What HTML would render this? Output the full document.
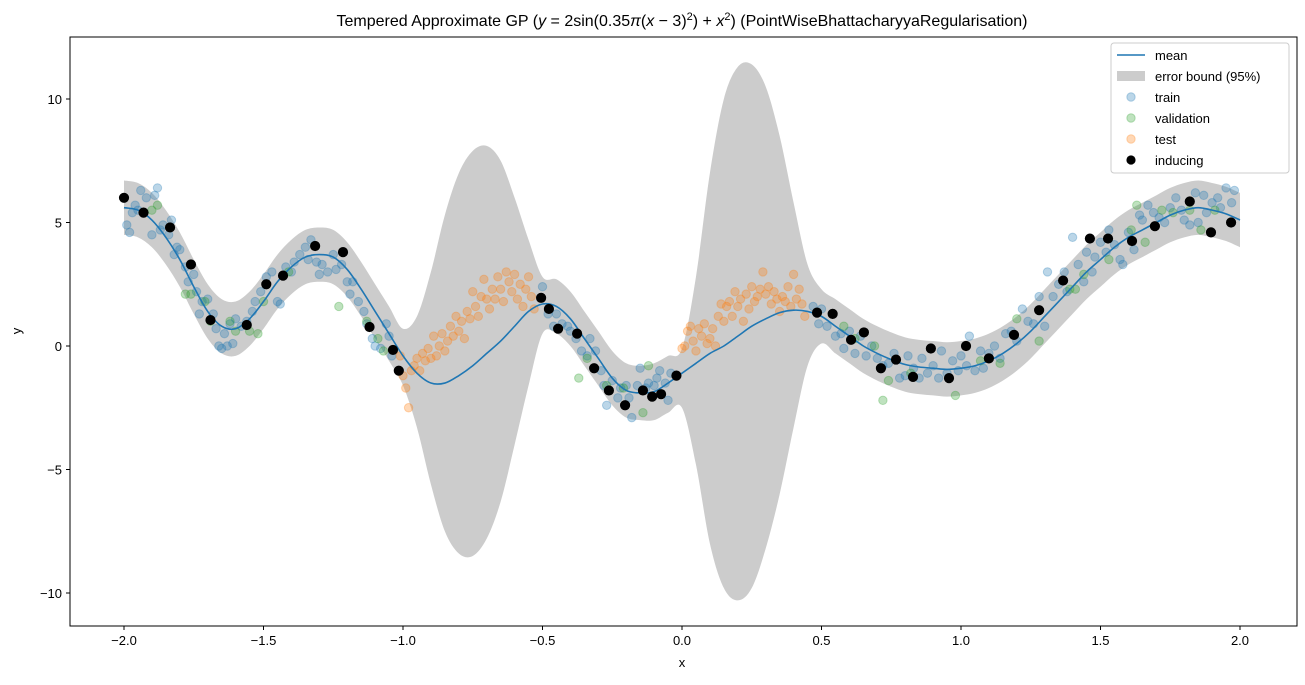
<!DOCTYPE html>
<html><head><meta charset="utf-8"><style>
body{margin:0;background:#fff;}
svg{font-family:"Liberation Sans","DejaVu Sans",sans-serif;}
</style></head><body>
<svg id="chart" width="1305" height="680"></svg>
<script>
const gridX=[-2,-1.95,-1.9,-1.85,-1.8,-1.75,-1.7,-1.65,-1.6,-1.55,-1.5,-1.45,-1.4,-1.35,-1.3,-1.25,-1.2,-1.15,-1.1,-1.05,-1,-0.95,-0.9,-0.85,-0.8,-0.75,-0.7,-0.65,-0.6,-0.55,-0.5,-0.45,-0.4,-0.35,-0.3,-0.25,-0.2,-0.15,-0.1,-0.05,0,0.05,0.1,0.15,0.2,0.25,0.3,0.35,0.4,0.45,0.5,0.55,0.6,0.65,0.7,0.75,0.8,0.85,0.9,0.95,1,1.05,1.1,1.15,1.2,1.25,1.3,1.35,1.4,1.45,1.5,1.55,1.6,1.65,1.7,1.75,1.8,1.85,1.9,1.95,2];
const meanY=[5.6,5.5,5.1,4.4,3.5,2.4,1.4,0.8,0.7,1.1,1.8,2.6,3.2,3.6,3.7,3.6,3.1,2.3,1.4,0.5,-0.4,-1.1,-1.5,-1.5,-1.2,-0.8,-0.3,0.2,0.8,1.4,1.7,1.6,1.1,0.3,-0.5,-1.3,-1.8,-1.9,-1.85,-1.5,-1.1,-0.7,-0.3,0.0,0.4,0.8,1.1,1.35,1.45,1.4,1.2,0.8,0.4,0.0,-0.3,-0.55,-0.75,-0.85,-0.9,-0.95,-0.9,-0.8,-0.6,-0.3,0.1,0.6,1.2,1.8,2.4,3.0,3.5,4.0,4.4,4.7,5.0,5.3,5.5,5.6,5.5,5.35,5.1];
const upperY=[6.7,6.6,6.2,5.5,4.6,3.5,2.5,1.9,1.8,2.2,2.9,3.7,4.3,4.7,4.8,4.7,4.2,3.4,2.5,1.6,0.7,1.2,3.0,5.3,7.0,7.9,8.1,7.5,6.0,4.3,2.8,2.7,2.2,1.4,0.6,-0.2,-0.7,-0.8,-0.7,-0.4,-0.1,2.8,7.0,10.0,11.3,11.4,10.5,8.5,5.8,3.3,2.3,1.9,1.5,1.1,0.8,0.55,0.35,0.25,0.2,0.15,0.2,0.3,0.5,0.8,1.2,1.7,2.3,2.9,3.5,4.1,4.6,5.1,5.5,5.8,6.1,6.4,6.6,6.7,6.6,6.45,6.2];
const lowerY=[4.5,4.4,4.0,3.3,2.4,1.3,0.3,-0.3,-0.4,0.0,0.7,1.5,2.1,2.5,2.6,2.5,2.0,1.2,0.3,-0.6,-1.6,-3.3,-5.6,-7.5,-8.4,-8.5,-7.8,-6.3,-4.0,-1.6,0.5,0.5,0.0,-0.8,-1.6,-2.4,-2.9,-3.0,-3.0,-2.7,-2.5,-4.8,-8.0,-9.8,-10.3,-9.8,-8.2,-6.0,-3.3,-0.8,0.1,-0.3,-0.7,-1.1,-1.4,-1.65,-1.85,-1.95,-2.0,-2.05,-2.0,-1.9,-1.7,-1.4,-1.0,-0.5,0.1,0.7,1.3,1.9,2.4,2.9,3.3,3.6,3.9,4.2,4.4,4.5,4.4,4.25,4.0];
const trainPts=[-1.99,4.9,-1.98,4.6,-1.97,5.4,-1.96,5.7,-1.95,5.5,-1.94,6.3,-1.92,6.0,-1.9,4.5,-1.89,6.1,-1.88,6.4,-1.87,4.7,-1.86,4.9,-1.84,4.5,-1.83,5.1,-1.82,3.7,-1.81,4.0,-1.8,3.9,-1.78,3.2,-1.77,2.6,-1.75,2.9,-1.74,2.2,-1.73,1.3,-1.72,1.8,-1.7,1.9,-1.68,1.3,-1.67,0.7,-1.66,0.0,-1.65,-0.1,-1.64,0.5,-1.63,0.0,-1.62,0.9,-1.61,0.1,-1.6,1.1,-1.58,0.8,-1.56,1.0,-1.54,1.4,-1.53,1.8,-1.51,2.2,-1.49,2.8,-1.47,3.0,-1.45,1.8,-1.44,1.7,-1.42,3.2,-1.4,3.0,-1.39,3.4,-1.37,3.7,-1.35,4.0,-1.34,3.5,-1.33,4.3,-1.31,3.4,-1.3,2.9,-1.29,3.3,-1.27,3.0,-1.25,3.7,-1.24,3.1,-1.22,3.3,-1.2,2.6,-1.19,2.1,-1.18,2.6,-1.16,1.8,-1.14,1.4,-1.13,0.9,-1.11,0.3,-1.1,0.0,-1.08,-0.1,-1.06,0.9,-1.05,0.4,-1.04,-0.4,
-0.5,2.4,-0.48,1.3,-0.46,0.8,-0.45,1.3,-0.43,0.9,-0.41,0.8,-0.4,0.6,-0.38,0.3,-0.36,-0.2,-0.34,-0.4,-0.33,0.3,-0.31,-0.2,-0.29,-1.0,-0.28,-1.6,-0.27,-2.4,-0.25,-1.4,-0.23,-2.1,-0.22,-1.7,-0.2,-1.6,-0.19,-2.1,-0.18,-2.9,-0.16,-1.6,-0.15,-0.9,-0.13,-1.7,-0.12,-1.5,-0.1,-1.6,-0.09,-1.3,-0.08,-1.0,-0.06,-1.5,-0.05,-2.2,-0.04,-1.1,
0.47,1.6,0.49,0.9,0.5,1.5,0.52,0.8,0.55,0.4,0.57,0.5,0.58,-0.1,0.6,0.6,0.62,-0.3,0.64,0.4,0.66,-0.4,0.68,0.0,0.7,-0.5,0.72,-0.8,0.74,-0.7,0.76,-0.3,0.78,-1.3,0.8,-1.2,0.81,-0.4,0.83,-0.9,0.85,-1.3,0.86,-0.5,0.88,-1.1,0.9,-0.8,0.92,-1.3,0.93,-0.2,0.95,-1.1,0.97,-0.6,0.99,-1.0,1.0,-0.4,1.02,-0.8,1.03,0.4,1.05,-1.0,1.07,-0.2,1.08,-0.9,1.1,-0.3,1.12,0.0,1.14,-0.5,1.16,0.5,1.18,0.6,1.2,0.2,1.22,1.5,1.24,1.0,1.26,0.9,1.28,2.0,1.3,0.8,1.31,3.0,1.33,2.0,1.35,2.5,1.37,3.0,1.38,2.2,1.4,4.4,1.42,3.3,1.44,2.6,1.45,3.8,1.47,3.0,1.48,3.6,1.5,4.2,1.52,3.8,1.53,4.7,1.55,4.1,1.57,3.5,1.58,3.3,1.6,4.6,1.62,3.9,1.64,5.3,1.65,5.1,1.67,5.7,1.69,5.4,1.71,5.2,1.73,5.0,1.75,5.6,1.77,6.0,1.79,5.5,1.8,5.1,1.82,4.9,1.84,6.2,1.85,5.0,1.87,6.1,1.88,5.4,1.9,5.8,1.92,6.0,1.93,5.6,1.95,6.4,1.97,5.8,1.98,6.3];
const valPts=[-1.9,5.5,-1.88,5.7,-1.78,2.1,-1.76,2.1,-1.71,1.8,-1.69,1.0,-1.62,1.0,-1.6,0.6,-1.55,0.6,-1.52,0.5,-1.5,1.8,-1.41,3.0,-1.23,1.6,-1.13,1.0,-1.09,0.3,-1.07,-0.2,-0.37,-1.3,-0.27,-1.6,-0.21,-1.7,-0.14,-2.7,-0.12,-0.8,-0.34,-0.5,0.58,0.8,0.62,0.3,0.69,0.0,0.72,-2.2,0.74,-1.4,0.82,-1.1,0.98,-2.0,1.07,-0.6,1.14,-0.7,1.2,1.1,1.28,0.2,1.39,2.3,1.41,2.3,1.44,2.9,1.53,3.5,1.61,4.7,1.63,5.7,1.66,4.2,1.72,5.5,1.76,5.4,1.82,5.5,1.86,4.7,1.91,5.5];
const testPts=[-1.01,-0.4,-1.0,-1.2,-0.99,-1.7,-0.98,-2.5,-0.97,-1.0,-0.96,-0.8,-0.95,-0.5,-0.94,-1.0,-0.93,-0.3,-0.92,-0.6,-0.91,-0.1,-0.9,-0.5,-0.89,0.4,-0.88,-0.4,-0.87,0.0,-0.86,0.5,-0.85,-0.2,-0.84,0.2,-0.83,0.8,-0.82,0.4,-0.81,1.2,-0.8,0.6,-0.79,1.0,-0.78,0.3,-0.77,1.4,-0.76,1.1,-0.75,2.2,-0.74,1.6,-0.73,1.2,-0.72,2.0,-0.71,2.7,-0.7,1.9,-0.69,1.5,-0.68,2.3,-0.67,1.9,-0.66,2.8,-0.65,2.3,-0.64,1.8,-0.63,3.0,-0.62,2.6,-0.61,2.2,-0.6,2.9,-0.59,1.9,-0.58,2.5,-0.57,1.6,-0.56,2.3,-0.55,2.8,-0.54,2.0,-0.53,1.5,
0.0,-0.1,0.01,0.0,0.02,0.6,0.03,0.8,0.04,0.2,0.05,-0.2,0.06,0.7,0.07,0.4,0.08,0.9,0.09,0.1,0.1,0.3,0.11,0.7,0.12,0.0,0.13,1.2,0.14,1.7,0.15,1.0,0.16,1.6,0.17,1.8,0.18,1.2,0.19,2.2,0.2,1.6,0.21,1.9,0.22,1.0,0.23,2.1,0.24,1.5,0.25,2.4,0.26,1.8,0.27,2.0,0.28,2.3,0.29,3.0,0.3,2.1,0.31,2.4,0.32,1.7,0.33,2.2,0.34,1.9,0.35,1.4,0.36,2.0,0.37,1.8,0.38,2.4,0.39,1.6,0.4,2.9,0.41,1.9,0.42,2.3,0.43,1.7,0.44,1.2];
const inducingPts=[-2.0,6.0,-1.93,5.4,-1.835,4.8,-1.76,3.3,-1.69,1.05,-1.56,0.85,-1.49,2.5,-1.43,2.85,-1.315,4.05,-1.215,3.8,-1.12,0.77,-1.036,-0.16,-1.015,-1.0,-0.505,1.95,-0.477,1.5,-0.444,0.7,-0.376,0.5,-0.315,-0.9,-0.262,-1.8,-0.204,-2.4,-0.14,-1.8,-0.107,-2.05,-0.075,-1.95,-0.02,-1.2,0.484,1.35,0.54,1.3,0.606,0.25,0.652,0.55,0.713,-0.9,0.767,-0.55,0.828,-1.25,0.892,-0.1,0.957,-1.3,1.018,0,1.1,-0.5,1.19,0.45,1.28,1.45,1.366,2.65,1.462,4.35,1.527,4.35,1.613,4.25,1.695,4.85,1.82,5.85,1.896,4.6,1.968,5.0];
const xTicks=[-2,-1.5,-1,-0.5,0,0.5,1,1.5,2];
const xTickLabels=["\u22122.0","\u22121.5","\u22121.0","\u22120.5","0.0","0.5","1.0","1.5","2.0"];
const yTicks=[-10,-5,0,5,10];
const yTickLabels=["\u221210","\u22125","0","5","10"];

const L=70,T=37,R=1297,B=626;
const sx=x=>682+x*279;
const sy=y=>346-y*24.7;
const NS="http://www.w3.org/2000/svg";
const svg=document.getElementById('chart');
function mk(tag,attrs,parent){const e=document.createElementNS(NS,tag);for(const k in attrs)e.setAttribute(k,attrs[k]);(parent||svg).appendChild(e);return e;}
function smooth(pts){let d='M'+pts[0][0].toFixed(2)+','+pts[0][1].toFixed(2);for(let i=0;i<pts.length-1;i++){const p0=pts[Math.max(0,i-1)],p1=pts[i],p2=pts[i+1],p3=pts[Math.min(pts.length-1,i+2)];const c1x=p1[0]+(p2[0]-p0[0])/6,c1y=p1[1]+(p2[1]-p0[1])/6,c2x=p2[0]-(p3[0]-p1[0])/6,c2y=p2[1]-(p3[1]-p1[1])/6;d+=' C'+c1x.toFixed(2)+','+c1y.toFixed(2)+' '+c2x.toFixed(2)+','+c2y.toFixed(2)+' '+p2[0].toFixed(2)+','+p2[1].toFixed(2);}return d;}

// band
const up=gridX.map((x,i)=>[sx(x),sy(upperY[i])]);
const lo=gridX.map((x,i)=>[sx(x),sy(lowerY[i])]).reverse();
const band=mk('path',{d:smooth(up)+' L'+smooth(lo).slice(1)+' Z',fill:'#cccccc',stroke:'none'});



function scatter(arr,color,op,r,name){const g=mk('g',{});for(let i=0;i<arr.length;i+=2){const c=mk('circle',{cx:sx(arr[i]),cy:sy(arr[i+1]),r:r,fill:color,'fill-opacity':op,stroke:color,'stroke-opacity':op},g);}}
scatter(trainPts,'#1f77b4',0.3,4.2,'train-points');
scatter(valPts,'#2ca02c',0.3,4.2,'validation-points');
scatter(testPts,'#ff7f0e',0.3,4.2,'test-points');

const mline=mk('path',{d:smooth(gridX.map((x,i)=>[sx(x),sy(meanY[i])])),fill:'none',stroke:'#1f77b4','stroke-width':1.6});


scatter(inducingPts,'#000000',1,4.6,'inducing-points');

// frame
const fr=mk('rect',{x:L,y:T,width:R-L,height:B-T,fill:'none',stroke:'#000','stroke-width':1});


xTicks.forEach((v,i)=>{const x=sx(v);mk('line',{x1:x,x2:x,y1:B,y2:B+4,stroke:'#000'});const t=mk('text',{x:x,y:B+19,'text-anchor':'middle','font-size':13});t.textContent=xTickLabels[i];});
yTicks.forEach((v,i)=>{const y=sy(v);mk('line',{x1:L-4,x2:L,y1:y,y2:y,stroke:'#000'});const t=mk('text',{x:L-8,y:y+5,'text-anchor':'end','font-size':13});t.textContent=yTickLabels[i];});
</script>
<svg width="1305" height="680" style="position:absolute;left:0;top:0">
<text x="682" y="26" text-anchor="middle" font-size="16" font-family="Liberation Sans,sans-serif">Tempered Approximate GP (<tspan font-style="italic">y</tspan> = 2sin(0.35<tspan font-style="italic">π</tspan>(<tspan font-style="italic">x</tspan> − 3)<tspan font-size="11" dy="-6">2</tspan><tspan dy="6">) + </tspan><tspan font-style="italic">x</tspan><tspan font-size="11" dy="-6">2</tspan><tspan dy="6">) (PointWiseBhattacharyyaRegularisation)</tspan></text>
<text x="682" y="667" text-anchor="middle" font-size="13" font-family="Liberation Sans,sans-serif">x</text>
<text x="21" y="331" text-anchor="middle" font-size="13" font-family="Liberation Sans,sans-serif" transform="rotate(-90 21 331)">y</text>
<g font-family="Liberation Sans,sans-serif" font-size="13">
<rect x="1111" y="43" width="178" height="130" rx="3" fill="#fff" fill-opacity="0.8" stroke="#ccc"/>
<g><line x1="1117" x2="1145" y1="55" y2="55" stroke="#1f77b4" stroke-width="1.6"/><text x="1155" y="60">mean</text></g>
<g><rect x="1117" y="71" width="28" height="10" fill="#cccccc"/><text x="1155" y="81">error bound (95%)</text></g>
<g><circle cx="1131" cy="97" r="4.2" fill="#1f77b4" fill-opacity="0.3" stroke="#1f77b4" stroke-opacity="0.3"/><text x="1155" y="102">train</text></g>
<g><circle cx="1131" cy="118" r="4.2" fill="#2ca02c" fill-opacity="0.3" stroke="#2ca02c" stroke-opacity="0.3"/><text x="1155" y="123">validation</text></g>
<g><circle cx="1131" cy="139" r="4.2" fill="#ff7f0e" fill-opacity="0.3" stroke="#ff7f0e" stroke-opacity="0.3"/><text x="1155" y="144">test</text></g>
<g><circle cx="1131" cy="160" r="4.6" fill="#000"/><text x="1155" y="165">inducing</text></g>
</g>
</svg>
</body></html>
